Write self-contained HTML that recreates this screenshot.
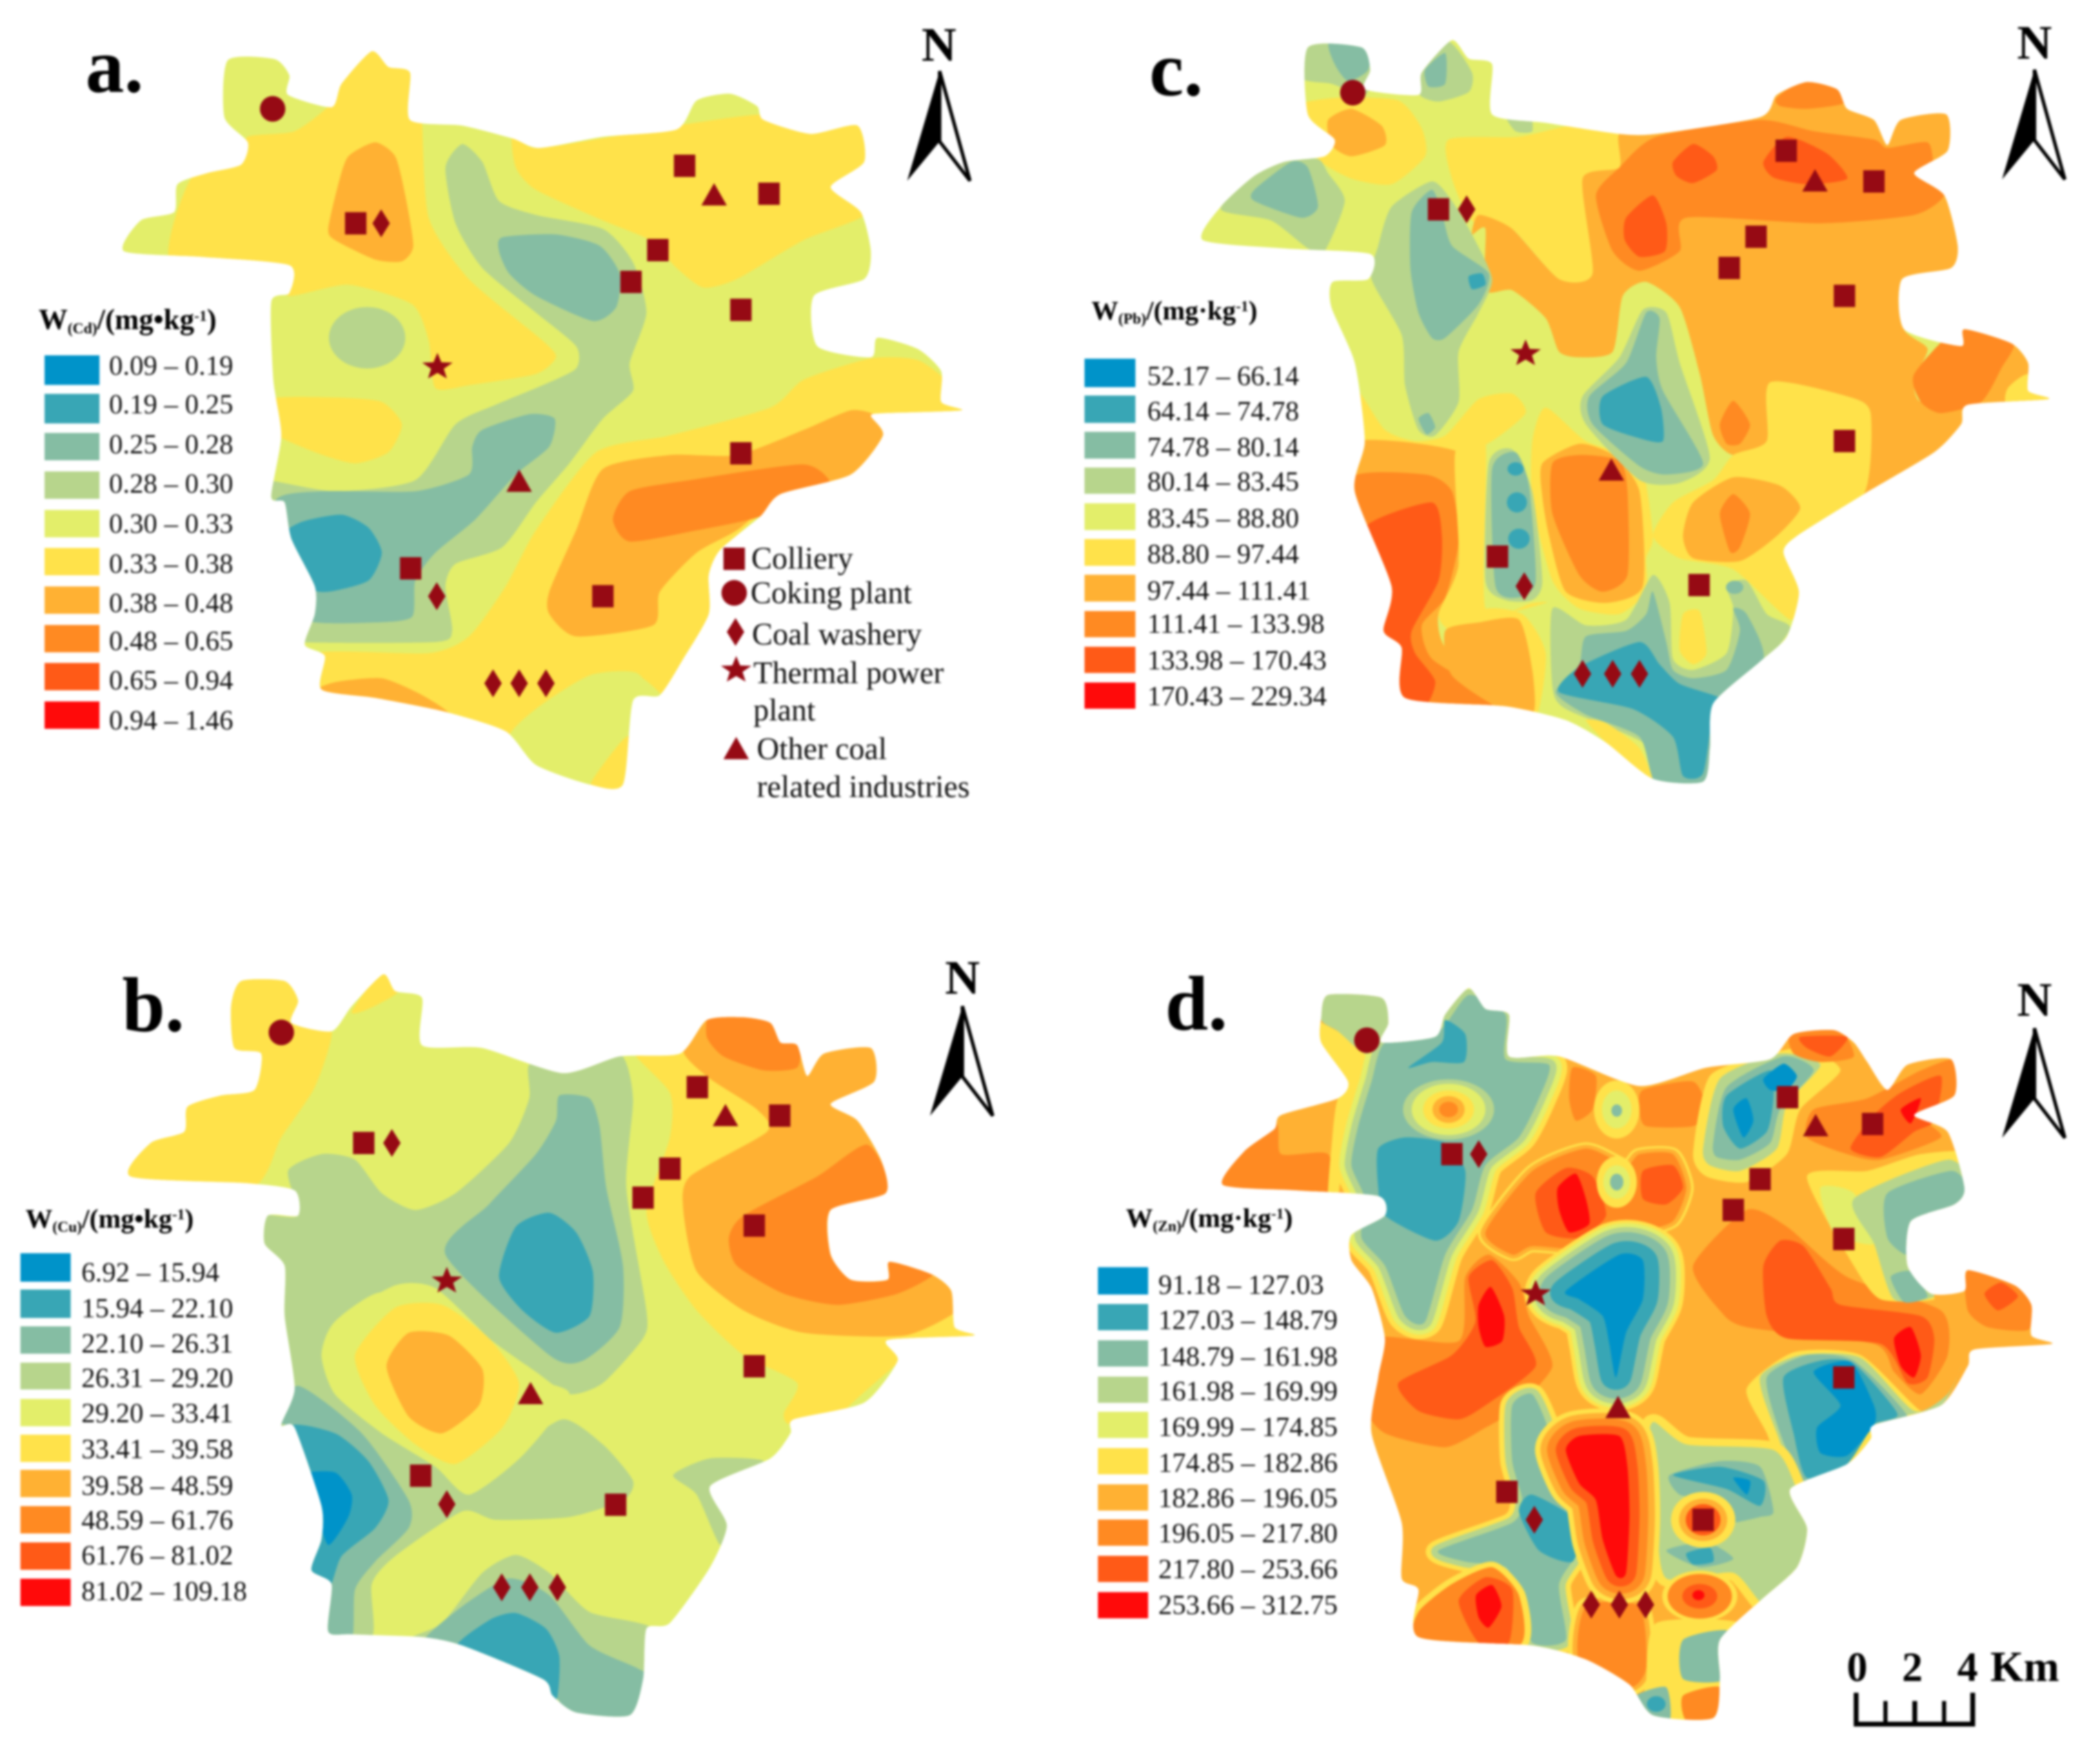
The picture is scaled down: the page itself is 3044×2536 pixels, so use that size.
<!DOCTYPE html>
<html lang="en">
<head>
<meta charset="utf-8">
<title>Soil heavy metal concentration maps</title>
<style>
html,body{margin:0;padding:0;background:#fff;width:3044px;height:2536px;overflow:hidden}
#fig{display:block;filter:blur(1.5px)}
text{font-family:"Liberation Serif",serif;fill:#000}
.lg{font-size:40px;fill:#111}
.ttl{font-size:39px;font-weight:bold}
.ttl .s{font-size:22px}
.pl{font-size:112px;font-weight:bold}
.nl{font-size:70px;font-weight:bold;text-anchor:middle}
.kl{font-size:45px;fill:#111}
.sc{font-size:60px;font-weight:bold}
path,ellipse{stroke-width:0;stroke-linejoin:round}
.c1{fill:#0093c9;stroke:#0093c9}
.c2{fill:#38a6b5;stroke:#38a6b5}
.c3{fill:#85bda3;stroke:#85bda3}
.c4{fill:#b7d58c;stroke:#b7d58c}
.c5{fill:#e3ee6a;stroke:#e3ee6a}
.c6{fill:#ffe24a;stroke:#ffe24a}
.c7{fill:#ffb133;stroke:#ffb133}
.c8{fill:#ff8a22;stroke:#ff8a22}
.c9{fill:#ff5a17;stroke:#ff5a17}
.c10{fill:#ff0a0a;stroke:#ff0a0a}
.mk{fill:#960a14}
</style>
</head>
<body>
<svg id="fig" xmlns="http://www.w3.org/2000/svg" width="3044" height="2536" viewBox="0 0 3044 2536">
<defs>
<rect id="m-sq" class="mk" x="-16" y="-20" width="32" height="40"/>
<ellipse id="m-ci" class="mk" cx="0" cy="0" rx="19" ry="23"/>
<polygon id="m-di" class="mk" points="0,-25 13,0 0,25 -13,0"/>
<polygon id="m-st" class="mk" points="0,-25 5.9,-8 22.8,-7.4 9.5,3.5 14.1,21 0,11 -14.1,21 -9.5,3.5 -22.8,-7.4 -5.9,-8"/>
<polygon id="m-tr" class="mk" points="0,-22 19,18 -19,18"/>
<g id="north-arrow">
<polygon points="0,0 -47,159 0,102" fill="#000"/>
<polygon points="0,0 44,159 0,102" fill="#fff" stroke="#000" stroke-width="5" stroke-linejoin="miter"/>
</g>
<clipPath id="clip-a"><path data-p="340,108 410,106 432,135 430,170 495,192 510,150 555,92 580,120 612,130 612,215 690,225 765,248 805,265 900,245 1010,232 1040,180 1090,168 1130,190 1140,215 1210,240 1280,225 1290,290 1240,335 1285,380 1300,450 1290,500 1215,530 1220,620 1300,640 1310,605 1370,625 1405,665 1405,720 1435,735 1320,740 1300,745 1318,780 1270,850 1165,885 1135,925 1075,985 1058,1030 1058,1100 1020,1180 985,1245 945,1255 930,1405 880,1405 800,1370 755,1310 665,1275 560,1250 480,1235 485,1175 455,1155 470,1100 470,1050 435,965 425,900 405,890 420,780 408,680 405,540 432,525 432,475 300,460 185,450 210,395 260,380 265,330 310,310 360,295 370,255 335,210"/></clipPath>
<clipPath id="clip-c"><path data-p="385,85 465,85 478,125 470,160 550,170 555,130 600,72 625,105 660,115 660,205 740,220 850,240 905,240 1060,210 1085,170 1130,147 1175,160 1190,195 1230,215 1250,260 1270,215 1338,205 1340,270 1290,310 1335,350 1355,440 1345,480 1272,500 1275,590 1360,620 1365,590 1435,615 1460,650 1460,700 1490,715 1370,725 1360,760 1320,810 1215,885 1115,960 1095,990 1118,1060 1100,1140 1060,1185 990,1260 985,1340 975,1400 900,1395 830,1330 770,1290 680,1265 530,1250 525,1160 498,1130 510,1050 455,880 470,790 455,650 420,550 422,505 475,500 478,455 350,445 228,430 255,370 305,315 350,290 410,280 425,250 385,205"/></clipPath>
<clipPath id="clip-b"><path data-p="360,190 425,190 445,225 435,265 495,280 525,235 572,178 590,208 630,220 630,305 720,310 840,355 925,325 1015,320 1055,260 1110,255 1150,265 1165,300 1190,305 1205,360 1230,320 1300,310 1305,370 1240,410 1280,440 1315,510 1322,570 1240,600 1240,680 1270,725 1325,725 1328,693 1390,715 1420,745 1425,810 1453,825 1325,833 1340,870 1290,945 1185,975 1180,1000 1150,1045 1060,1095 1085,1165 1060,1240 1000,1340 965,1350 960,1440 940,1505 860,1500 825,1470 810,1440 690,1380 630,1365 525,1360 490,1355 495,1270 465,1245 480,1190 480,1130 440,990 420,985 440,920 425,790 425,700 395,660 400,610 445,610 440,565 370,552 195,540 225,480 275,460 280,415 330,395 380,385 390,320 350,310 345,235"/></clipPath>
<clipPath id="clip-d"><path data-p="415,215 495,220 505,265 495,300 575,290 590,250 625,203 650,240 685,250 685,325 760,325 880,378 980,345 1075,330 1110,285 1170,278 1200,300 1220,335 1250,385 1280,340 1345,330 1350,395 1290,430 1340,460 1365,560 1350,590 1285,620 1280,700 1315,750 1365,745 1370,708 1440,735 1465,770 1465,825 1495,840 1380,850 1370,880 1330,950 1230,985 1225,1010 1190,1055 1105,1100 1130,1170 1115,1240 1060,1300 1000,1370 1000,1440 990,1510 900,1505 865,1450 800,1405 720,1380 550,1365 550,1280 525,1260 525,1160 480,1000 490,900 500,830 480,740 450,690 450,645 500,610 490,575 370,565 258,555 290,495 335,455 345,430 430,400 445,370 405,300 405,255"/></clipPath>
</defs>

<rect x="0" y="0" width="3044" height="2536" fill="#fff"/>

<!-- PANEL A -->
<g transform="translate(0,0) scale(.971,.809)">
<g clip-path="url(#clip-a)">
<rect class="c5" x="0" y="0" width="1568" height="1568"/>
<path class="c6" data-p="495,185 510,140 555,80 625,120 630,215 640,390 700,500 810,610 830,640 800,670 700,690 650,695 640,610 615,545 520,510 430,530 420,480 255,470 285,320 360,285 370,245 440,235"/>
<ellipse class="c4" cx="548" cy="605" rx="57" ry="55"/>
<path class="c7" data-p="520,280 560,255 590,280 605,350 617,440 600,468 560,465 500,430 490,410 505,330"/>
<path class="c6" data-p="400,715 500,712 570,720 600,760 580,810 530,830 470,810 400,770"/>
<path class="c6" data-p="765,240 805,265 1010,225 1140,205 1210,230 1300,215 1300,290 1250,335 1290,385 1200,430 1100,500 1050,515 1010,480 970,430 900,395 800,340 770,300"/>
<path class="c4" data-p="690,258 720,290 745,360 800,385 900,410 945,470 965,560 940,650 945,700 900,750 850,830 800,900 750,980 680,1010 665,1050 675,1130 650,1150 440,1150 440,1130 460,1110 460,1050 395,890 395,860 500,880 620,860 680,760 740,725 810,690 860,660 860,620 800,560 720,480 680,400 665,300"/>
<path class="c3" data-p="750,425 830,420 895,440 925,490 920,550 885,575 800,530 760,490 745,450"/>
<path class="c3" data-p="720,770 790,742 828,750 820,800 770,850 710,930 650,990 620,1040 615,1105 560,1115 460,1112 450,1050 410,900 480,880 620,880 700,850 705,800"/>
<path class="c2" data-p="450,935 510,922 550,945 570,990 550,1040 490,1060 460,1050 420,965"/>
<path class="c6" data-p="1200,680 1300,642 1370,645 1420,690 1440,745 1300,750 1330,780 1280,860 1165,895 1070,1000 1070,1100 1000,1260 950,1205 880,1210 800,1270 760,1325 665,1285 460,1245 470,1170 640,1170 700,1140 755,1050 800,950 890,810 1000,780 1150,730"/>
<path class="c5" data-p="760,1320 800,1270 880,1210 945,1205 990,1250 945,1265 930,1320 885,1415 790,1380"/>
<path class="c6" data-p="880,1410 930,1325 955,1320 935,1415"/>
<path class="c7" data-p="900,840 1000,815 1100,815 1200,770 1270,735 1310,745 1325,780 1280,855 1165,890 1100,950 1040,990 985,1060 975,1120 860,1140 820,1100 820,1060 860,950"/>
<path class="c8" data-p="940,880 1030,860 1200,832 1240,870 1165,885 1135,925 1040,950 940,970 915,930"/>
<path class="c7" data-p="470,1240 500,1222 570,1215 630,1245 670,1280 560,1255"/>
</g>
<rect class="c1" x="67" y="637" width="81" height="52"/>
<rect class="c2" x="67" y="706" width="81" height="52"/>
<rect class="c3" x="67" y="776" width="81" height="48"/>
<rect class="c4" x="67" y="845" width="81" height="48"/>
<rect class="c5" x="67" y="914" width="81" height="48"/>
<rect class="c6" x="67" y="982" width="81" height="48"/>
<rect class="c7" x="67" y="1051" width="81" height="48"/>
<rect class="c8" x="67" y="1120" width="81" height="48"/>
<rect class="c9" x="67" y="1188" width="81" height="48"/>
<rect class="c10" x="67" y="1257" width="81" height="48"/>
<g>
<use href="#m-sq" x="531" y="400"/>
<use href="#m-sq" x="1022" y="297"/>
<use href="#m-sq" x="1148" y="347"/>
<use href="#m-sq" x="982" y="448"/>
<use href="#m-sq" x="942" y="505"/>
<use href="#m-sq" x="1106" y="555"/>
<use href="#m-sq" x="1106" y="812"/>
<use href="#m-sq" x="613" y="1018"/>
<use href="#m-sq" x="900" y="1068"/>
<use href="#m-ci" x="407" y="195"/>
<use href="#m-di" x="569" y="400"/>
<use href="#m-di" x="652" y="1068"/>
<use href="#m-di" x="736" y="1224"/>
<use href="#m-di" x="775" y="1224"/>
<use href="#m-di" x="815" y="1224"/>
<use href="#m-st" x="653" y="657"/>
<use href="#m-tr" x="1066" y="350"/>
<use href="#m-tr" x="775" y="863"/>
</g>
<g>
<use href="#m-sq" x="1096" y="1001"/>
<use href="#m-ci" x="1096" y="1062"/>
<use href="#m-di" x="1098" y="1132"/>
<use href="#m-st" x="1099" y="1200"/>
<use href="#m-tr" x="1099" y="1342"/>
</g>
</g>
<g>
<text class="pl" x="124" y="133">a.</text>
<text class="nl" x="1361" y="88">N</text>
<use href="#north-arrow" x="1362" y="103"/>
<text class="ttl" x="56" y="477" style="font-size:42px">W<tspan class="s" dy="6">(Cd)</tspan><tspan dy="-6">/(mg•kg</tspan><tspan class="s" dy="-12">-1</tspan><tspan dy="12">)</tspan></text>
<text class="lg" x="158" y="543">0.09 – 0.19</text>
<text class="lg" x="158" y="599">0.19 – 0.25</text>
<text class="lg" x="158" y="657">0.25 – 0.28</text>
<text class="lg" x="158" y="714">0.28 – 0.30</text>
<text class="lg" x="158" y="772">0.30 – 0.33</text>
<text class="lg" x="158" y="830">0.33 – 0.38</text>
<text class="lg" x="158" y="887">0.38 – 0.48</text>
<text class="lg" x="158" y="942">0.48 – 0.65</text>
<text class="lg" x="158" y="999">0.65 – 0.94</text>
<text class="lg" x="158" y="1057">0.94 – 1.46</text>
<text class="kl" x="1089" y="824">Colliery</text>
<text class="kl" x="1088" y="874">Coking plant</text>
<text class="kl" x="1090" y="934">Coal washery</text>
<text class="kl" x="1092" y="990">Thermal power</text>
<text class="kl" x="1092" y="1044">plant</text>
<text class="kl" x="1097" y="1100">Other coal</text>
<text class="kl" x="1097" y="1155">related industries</text>
</g>

<!-- PANEL C -->
<g transform="translate(1522,0) scale(.971,.809)">
<g clip-path="url(#clip-c)">
<rect class="c5" x="0" y="0" width="1568" height="1568"/>
<path class="c6" data-p="375,185 430,175 520,180 555,230 560,280 510,330 450,320 400,285 415,250 375,205"/>
<path class="c7" data-p="415,215 450,195 495,225 500,260 450,280 420,260"/>
<path class="c4" data-p="370,75 475,75 485,125 470,170 420,150 375,140"/>
<path class="c3" data-p="417,75 475,75 475,125 445,145 425,115"/>
<path class="c4" data-p="555,130 595,75 630,130 625,165 580,182 552,170"/>
<path class="c3" data-p="560,125 590,95 590,150 565,155"/>
<path class="c4" data-p="680,205 715,195 720,235 695,235"/>
<path class="c4" data-p="305,310 345,285 400,285 415,310 440,360 410,450 385,445 330,395 255,375"/>
<path class="c3" data-p="305,340 360,290 385,300 400,370 375,390 305,360"/>
<path class="c6" data-p="595,250 700,245 780,225 850,240 850,300 800,320 810,490 760,500 690,410 630,395 600,320"/>
<path class="c7" data-p="850,240 905,235 1060,200 1085,160 1130,135 1175,150 1195,190 1235,210 1250,255 1270,205 1350,195 1350,270 1300,310 1345,350 1365,440 1355,490 1272,500 1275,590 1310,625 1290,680 1300,720 1380,725 1370,770 1325,815 1215,890 1225,740 1190,710 1075,685 1070,790 1020,815 990,780 970,670 940,550 890,505 855,530 840,630 790,640 760,630 740,570 690,520 650,520 650,410 630,420 640,385 690,410 760,500 810,490 795,320 850,300"/>
<path class="c8" data-p="905,245 1060,215 1140,235 1230,250 1250,265 1310,255 1320,300 1335,350 1290,385 1150,400 950,390 940,450 880,485 840,450 815,350 850,300"/>
<path class="c8" data-p="1085,175 1130,140 1180,155 1185,185 1130,195 1090,190"/>
<path class="c9" data-p="930,290 960,258 990,280 995,305 960,328 935,315"/>
<path class="c9" data-p="860,390 900,350 920,400 918,450 880,460 858,430"/>
<path class="c9" data-p="1065,290 1100,245 1160,275 1190,320 1130,330 1080,318"/>
<path class="c7" data-p="1340,725 1360,585 1440,610 1470,650 1470,700 1500,720 1370,730"/>
<path class="c8" data-p="1290,670 1360,585 1438,612 1420,660 1390,720 1330,740 1300,720"/>
<path class="c6" data-p="1430,695 1462,670 1500,720 1430,725"/>
<path class="c6" data-p="1075,685 1190,710 1225,740 1215,885 1115,960 1095,990 1125,1060 1105,1110 1020,1020 940,1000 900,960 930,900 990,860 1020,815 1070,790"/>
<path class="c7" data-p="945,960 960,900 1020,855 1090,870 1120,910 1085,960 1030,1005 960,1000"/>
<path class="c8" data-p="1000,920 1020,885 1045,920 1030,980 1015,988"/>
<path class="c8" data-p="1000,760 1020,718 1045,760 1030,795 1010,795"/>
<path class="c6" data-p="460,700 500,770 545,790 590,780 640,715 690,705 710,740 660,790 610,810 460,790 445,720"/>
<path class="c7" data-p="460,790 610,810 615,900 610,1000 610,1070 580,1100 590,1160 680,1275 520,1260 490,1130 500,1050 445,880"/>
<path class="c8" data-p="445,860 560,850 600,880 610,970 590,1070 555,1120 570,1180 650,1240 675,1275 520,1260 490,1130 500,1050"/>
<path class="c9" data-p="470,945 570,900 585,960 580,1040 540,1130 545,1170 575,1220 560,1265 520,1260 515,1160 488,1135 500,1050"/>
<path class="c6" data-p="720,790 740,730 800,790 880,830 900,960 890,1000 890,1060 850,1100 790,1090 750,1040 720,900"/>
<path class="c7" data-p="735,830 790,795 840,815 880,880 885,1050 830,1080 770,1060 745,960 735,890"/>
<path class="c8" data-p="750,830 790,815 850,825 862,880 862,1030 825,1060 790,1030 750,920"/>
<path class="c6" data-p="605,810 650,790 650,1090 720,1080 740,1080 650,1110 600,1130 580,1100 610,1010"/>
<path class="c6" data-p="640,1100 705,1100 740,1170 725,1285 670,1275"/>
<path class="c7" data-p="590,1130 640,1115 700,1110 720,1200 722,1275 680,1275 600,1210"/>
<path class="c4" data-p="510,370 570,325 600,360 630,420 660,500 640,560 610,630 610,720 575,780 550,770 530,690 525,600 480,500 490,440"/>
<path class="c3" data-p="540,380 570,340 585,380 600,440 655,490 640,545 590,605 570,605 550,560 538,480"/>
<path class="c2" data-p="625,495 645,490 650,510 630,518"/>
<path class="c3" data-p="550,750 565,740 575,765 562,778"/>
<path class="c4" data-p="655,830 690,805 720,880 735,1040 720,1075 680,1075 650,1040"/>
<path class="c3" data-p="660,840 695,810 715,870 725,1040 700,1070 665,1050"/>
<ellipse class="c2" cx="695" cy="840" rx="12" ry="12"/>
<ellipse class="c2" cx="697" cy="900" rx="15" ry="18"/>
<ellipse class="c2" cx="700" cy="965" rx="16" ry="18"/>
<path class="c4" data-p="885,555 920,560 940,650 985,820 940,865 880,860 800,760 795,710 850,640"/>
<path class="c3" data-p="890,560 910,570 905,640 915,700 975,830 920,850 880,835 810,760 805,710 860,650"/>
<path class="c2" data-p="825,710 890,675 912,730 915,790 880,785 825,760"/>
<path class="c4" data-p="750,1090 800,1120 860,1110 900,1030 925,1080 930,1180 960,1200 1010,1170 1020,1090 1010,1050 1040,1040 1070,1100 1105,1125 1060,1195 990,1260 985,1350 975,1410 930,1405 885,1330 770,1270 750,1230"/>
<path class="c6" data-p="800,1290 830,1295 880,1340 900,1400 870,1370 830,1330"/>
<path class="c6" data-p="945,1100 970,1095 980,1170 960,1190 940,1165"/>
<path class="c3" data-p="755,1240 790,1190 800,1140 860,1130 890,1100 900,1060 920,1150 930,1200 960,1215 1010,1200 1030,1130 1020,1090 1040,1100 1065,1180 995,1260 990,1350 975,1410 905,1405 880,1320 800,1280"/>
<path class="c2" data-p="760,1240 790,1195 880,1150 910,1190 940,1225 1000,1250 990,1270 975,1385 945,1390 930,1320 870,1270"/>
<ellipse class="c3" cx="1022" cy="1052" rx="13" ry="12"/>
</g>
<rect class="c1" x="52" y="643" width="75" height="50"/>
<rect class="c2" x="52" y="709" width="75" height="48"/>
<rect class="c3" x="52" y="774" width="75" height="47"/>
<rect class="c4" x="52" y="838" width="75" height="46"/>
<rect class="c5" x="52" y="902" width="75" height="47"/>
<rect class="c6" x="52" y="966" width="75" height="47"/>
<rect class="c7" x="52" y="1030" width="75" height="47"/>
<rect class="c8" x="52" y="1095" width="75" height="46"/>
<rect class="c9" x="52" y="1159" width="75" height="46"/>
<rect class="c10" x="52" y="1223" width="75" height="46"/>
<g>
<use href="#m-sq" x="580" y="375"/>
<use href="#m-sq" x="1099" y="270"/>
<use href="#m-sq" x="1230" y="325"/>
<use href="#m-sq" x="1054" y="424"/>
<use href="#m-sq" x="1014" y="480"/>
<use href="#m-sq" x="1186" y="530"/>
<use href="#m-sq" x="1186" y="790"/>
<use href="#m-sq" x="668" y="997"/>
<use href="#m-sq" x="969" y="1048"/>
<use href="#m-ci" x="452" y="166"/>
<use href="#m-di" x="622" y="375"/>
<use href="#m-di" x="708" y="1050"/>
<use href="#m-di" x="795" y="1207"/>
<use href="#m-di" x="840" y="1207"/>
<use href="#m-di" x="880" y="1207"/>
<use href="#m-st" x="710" y="633"/>
<use href="#m-tr" x="1142" y="325"/>
<use href="#m-tr" x="838" y="843"/>
</g>
</g>
<g>
<text class="pl" x="1666" y="138">c.</text>
<text class="nl" x="2949" y="85">N</text>
<use href="#north-arrow" x="2949" y="101"/>
<text class="ttl" x="1582" y="463">W<tspan class="s" dy="6">(Pb)</tspan><tspan dy="-6">/(mg·kg</tspan><tspan class="s" dy="-12">-1</tspan><tspan dy="12">)</tspan></text>
<text class="lg" x="1663" y="558">52.17 – 66.14</text>
<text class="lg" x="1663" y="609">64.14 – 74.78</text>
<text class="lg" x="1663" y="661">74.78 – 80.14</text>
<text class="lg" x="1663" y="711">80.14 – 83.45</text>
<text class="lg" x="1663" y="764">83.45 – 88.80</text>
<text class="lg" x="1663" y="816">88.80 – 97.44</text>
<text class="lg" x="1663" y="869">97.44 – 111.41</text>
<text class="lg" x="1663" y="917">111.41 – 133.98</text>
<text class="lg" x="1663" y="970">133.98 – 170.43</text>
<text class="lg" x="1663" y="1022">170.43 – 229.34</text>
</g>

<!-- PANEL B -->
<g transform="translate(0,1268) scale(.971,.809)">
<g clip-path="url(#clip-b)">
<rect class="c5" x="0" y="0" width="1568" height="1568"/>
<path class="c6" data-p="350,180 430,180 455,225 445,265 495,280 470,380 420,470 375,560 185,550 215,480 265,450 270,405 370,375 380,320 340,310 335,235"/>
<path class="c6" data-p="525,245 572,170 595,208 550,240"/>
<path class="c4" data-p="790,340 840,345 925,320 945,400 935,560 965,780 960,830 900,910 850,930 800,890 730,830 670,760 640,740 560,750 500,800 480,860 500,930 570,1000 650,1060 700,1110 760,1040 840,975 900,1020 945,1085 930,1120 850,1150 740,1155 690,1140 590,1220 555,1270 555,1365 480,1365 410,985 430,920 390,660 390,610 445,610 430,530 480,500 530,510 570,570 620,600 680,570 760,480 790,400"/>
<path class="c4" data-p="610,1370 660,1340 720,1250 770,1218 820,1250 880,1320 975,1350 970,1440 950,1515 860,1510 810,1450 690,1390"/>
<path class="c4" data-p="1005,1075 1060,1045 1140,1050 1070,1095 1095,1165 1075,1200 1040,1110"/>
<path class="c5" data-p="480,860 500,800 590,735 650,740 730,830 790,900 850,930 780,1040 700,1110 650,1060 570,1000 500,930"/>
<path class="c6" data-p="530,860 590,775 660,770 730,830 775,910 750,990 680,1055 620,1020 560,950"/>
<path class="c7" data-p="577,880 610,820 670,825 720,885 715,950 660,1000 610,970"/>
<path class="c3" data-p="835,395 880,400 895,450 905,560 930,700 925,810 870,870 820,860 665,680 730,590 800,500 830,440"/>
<path class="c2" data-p="770,630 820,605 860,640 885,710 880,790 830,820 780,780 745,720"/>
<path class="c3" data-p="410,985 445,915 540,1000 610,1120 610,1170 560,1230 530,1280 525,1370 480,1365 485,1270 455,1245 470,1190 470,1130 430,990"/>
<path class="c2" data-p="430,990 500,1000 550,1050 580,1120 560,1170 510,1220 490,1280 455,1245 470,1190 470,1130"/>
<path class="c1" data-p="448,1075 500,1070 525,1110 520,1150 490,1200 470,1130"/>
<path class="c3" data-p="630,1375 690,1310 760,1260 820,1290 880,1380 950,1420 970,1440 950,1515 860,1510 810,1450 690,1390"/>
<path class="c2" data-p="680,1390 730,1335 770,1322 815,1350 835,1400 830,1480 800,1445"/>
<path class="c6" data-p="945,315 1020,310 1240,400 1330,520 1430,745 1435,810 1465,830 1325,838 1350,870 1295,955 1185,985 1170,965 1190,910 1110,860 1040,780 990,690 965,600 1000,470 1000,390"/>
<path class="c5" data-p="1265,955 1330,885 1350,865 1295,955"/>
<path class="c7" data-p="1020,315 1055,250 1110,245 1150,255 1175,295 1195,300 1205,355 1230,310 1310,300 1315,370 1250,410 1290,440 1330,570 1240,600 1240,680 1270,725 1325,725 1328,685 1395,710 1430,745 1430,780 1350,825 1200,820 1110,780 1040,710 1020,600 1030,540 1145,460 1130,420 1060,365"/>
<path class="c8" data-p="1055,290 1060,245 1110,245 1155,260 1175,295 1195,300 1190,345 1140,350 1080,325"/>
<path class="c8" data-p="1295,483 1330,570 1240,600 1240,680 1270,725 1325,725 1328,685 1395,712 1340,750 1250,770 1170,750 1100,700 1088,650 1110,610 1220,540"/>
</g>
<rect class="c1" x="31" y="678" width="74" height="50"/>
<rect class="c2" x="31" y="743" width="74" height="50"/>
<rect class="c3" x="31" y="809" width="74" height="48"/>
<rect class="c4" x="31" y="874" width="74" height="47"/>
<rect class="c5" x="31" y="939" width="74" height="48"/>
<rect class="c6" x="31" y="1003" width="74" height="48"/>
<rect class="c7" x="31" y="1066" width="74" height="48"/>
<rect class="c8" x="31" y="1131" width="74" height="48"/>
<rect class="c9" x="31" y="1196" width="74" height="48"/>
<rect class="c10" x="31" y="1261" width="74" height="48"/>
<g>
<use href="#m-sq" x="543" y="480"/>
<use href="#m-sq" x="1041" y="380"/>
<use href="#m-sq" x="1164" y="431"/>
<use href="#m-sq" x="1000" y="526"/>
<use href="#m-sq" x="960" y="578"/>
<use href="#m-sq" x="1126" y="628"/>
<use href="#m-sq" x="1126" y="880"/>
<use href="#m-sq" x="628" y="1076"/>
<use href="#m-sq" x="919" y="1128"/>
<use href="#m-ci" x="420" y="282"/>
<use href="#m-di" x="585" y="480"/>
<use href="#m-di" x="667" y="1127"/>
<use href="#m-di" x="749" y="1276"/>
<use href="#m-di" x="791" y="1276"/>
<use href="#m-di" x="832" y="1276"/>
<use href="#m-st" x="667" y="727"/>
<use href="#m-tr" x="1083" y="432"/>
<use href="#m-tr" x="792" y="930"/>
</g>
</g>
<g>
<text class="pl" x="177" y="1494">b.</text>
<text class="nl" x="1395" y="1440">N</text>
<use href="#north-arrow" x="1395" y="1458"/>
<text class="ttl" x="37" y="1779">W<tspan class="s" dy="6">(Cu)</tspan><tspan dy="-6">/(mg•kg</tspan><tspan class="s" dy="-12">-1</tspan><tspan dy="12">)</tspan></text>
<text class="lg" x="118" y="1857">6.92 – 15.94</text>
<text class="lg" x="118" y="1909">15.94 – 22.10</text>
<text class="lg" x="118" y="1960">22.10 – 26.31</text>
<text class="lg" x="118" y="2010">26.31 – 29.20</text>
<text class="lg" x="118" y="2061">29.20 – 33.41</text>
<text class="lg" x="118" y="2113">33.41 – 39.58</text>
<text class="lg" x="118" y="2166">39.58 – 48.59</text>
<text class="lg" x="118" y="2216">48.59 – 61.76</text>
<text class="lg" x="118" y="2267">61.76 – 81.02</text>
<text class="lg" x="118" y="2319">81.02 – 109.18</text>
</g>

<!-- PANEL D -->
<g transform="translate(1522,1268) scale(.971,.809)">
<g clip-path="url(#clip-d)">
<rect class="c7" x="0" y="0" width="1568" height="1568"/>
<path class="c8" data-p="240,565 335,445 345,500 415,500 415,580"/>
<path class="c6" data-p="430,400 470,340 480,420 440,480 430,580 415,580 420,490"/>
<path class="c6" data-p="395,260 470,310 510,370 470,420 430,400 445,370 395,300"/>
<path class="c3" data-r="c4:20 c5:36 c6:52" data-p="500,300 580,280 625,215 680,250 680,330 745,340 730,400 700,470 650,520 630,600 590,680 560,800 530,790 500,700 465,650 470,580 450,520 460,450 480,370"/>
<path class="c4" data-p="405,205 505,210 510,265 495,300 470,320 430,280 405,260"/>
<path class="c2" data-p="535,345 585,300 590,260 620,285 618,335 570,335"/>
<path class="c2" data-p="490,490 530,470 590,480 620,530 610,620 575,655 500,610 490,560"/>
<ellipse class="c4" cx="595" cy="420" rx="68" ry="54"/>
<ellipse class="c5" cx="595" cy="420" rx="55" ry="46"/>
<ellipse class="c6" cx="595" cy="420" rx="38" ry="34"/>
<ellipse class="c7" cx="595" cy="420" rx="24" ry="24"/>
<ellipse class="c8" cx="595" cy="420" rx="14" ry="14"/>
<path class="c8" data-p="780,345 815,360 810,420 785,440 775,400"/>
<path class="c8" data-p="885,385 960,370 980,420 960,450 890,450 880,420"/>
<ellipse class="c6" cx="846" cy="420" rx="34" ry="52"/>
<ellipse class="c5" cx="846" cy="420" rx="22" ry="34"/>
<ellipse class="c3" cx="846" cy="422" rx="8" ry="11"/>
<path class="c8" data-r="c7:14 c6:22" data-p="650,640 720,530 800,490 860,520 880,500 930,500 950,560 930,620 880,640 800,670 720,665 690,680"/>
<path class="c9" data-p="725,570 770,525 810,540 830,610 790,650 740,640"/>
<path class="c10" data-p="758,560 785,535 800,580 805,625 775,640 760,600"/>
<ellipse class="c6" cx="846" cy="550" rx="30" ry="46"/>
<ellipse class="c5" cx="846" cy="550" rx="20" ry="30"/>
<ellipse class="c3" cx="846" cy="550" rx="10" ry="15"/>
<path class="c9" data-p="885,530 930,520 945,560 920,590 885,580"/>
<path class="c8" data-p="480,830 610,835 620,720 655,680 700,730 715,790 750,880 690,960 650,990 590,1025 500,1000 470,950"/>
<path class="c9" data-p="625,720 660,690 690,740 700,810 725,880 650,950 610,975 550,960 520,910 600,860 635,800"/>
<path class="c10" data-p="640,770 658,738 678,790 675,835 650,845 640,810"/>
<path class="c8" data-p="960,700 1040,600 1100,630 1190,720 1330,780 1340,860 1300,930 1260,890 1230,840 1040,810 1000,780"/>
<path class="c9" data-p="1065,700 1090,655 1125,665 1165,740 1180,770 1300,790 1320,830 1310,900 1280,910 1240,840 1100,830 1070,790"/>
<path class="c10" data-p="1260,830 1285,810 1300,860 1290,900 1270,880"/>
<path class="c8" data-p="1370,708 1440,735 1465,770 1460,815 1400,810 1370,780"/>
<path class="c9" data-p="1395,750 1420,730 1445,755 1415,780"/>
<path class="c1" data-r="c2:44 c3:76 c4:94 c5:108 c6:120" data-p="770,745 850,680 885,690 885,760 860,820 845,900 835,840 825,790 790,760"/>
<path class="c6" data-p="1040,920 1110,855 1210,860 1300,960 1340,950 1380,880 1300,990 1220,1020 1190,1070 1110,1110 1070,1000"/>
<path class="c4" data-p="1060,900 1120,860 1210,865 1290,960 1340,930 1360,880 1330,950 1230,985 1190,1055 1120,1090 1085,1000"/>
<path class="c3" data-p="1070,900 1130,860 1200,870 1280,970 1230,985 1190,1055 1125,1085 1090,1000"/>
<path class="c2" data-p="1095,900 1150,870 1200,875 1265,965 1230,985 1190,1055 1130,1080 1110,1000"/>
<path class="c1" data-p="1140,890 1195,872 1230,950 1230,985 1190,1040 1150,1035 1145,990 1180,950"/>
<path class="c6" data-p="1130,540 1220,530 1300,500 1380,500 1370,600 1285,630 1290,720 1320,760 1240,760 1200,700"/>
<path class="c5" data-p="1150,560 1200,570 1230,660 1170,640"/>
<path class="c4" data-p="1200,580 1340,510 1380,560 1350,600 1285,630 1290,720 1320,755 1260,760 1230,660"/>
<path class="c3" data-p="1250,570 1345,530 1370,560 1350,590 1285,620 1280,680 1250,650"/>
<path class="c3" data-p="1255,720 1285,710 1310,755 1275,765"/>
<path class="c6" data-p="960,500 985,360 1075,320 1130,310 1180,350 1120,420 1100,500 1040,550 980,540"/>
<path class="c4" data-p="975,490 1000,365 1090,320 1150,340 1100,410 1085,490 1030,530 985,520"/>
<path class="c3" data-p="990,480 1010,380 1095,325 1140,350 1090,420 1075,480 1030,510 995,505"/>
<path class="c2" data-p="1010,395 1075,350 1080,400 1070,460 1030,490 1005,450"/>
<path class="c1" data-p="1065,365 1095,338 1115,360 1100,385 1075,385"/>
<path class="c1" data-p="1020,420 1040,400 1050,440 1035,470"/>
<path class="c8" data-p="1105,280 1175,270 1200,325 1150,335 1110,320"/>
<path class="c9" data-p="1120,290 1190,290 1165,325 1130,310"/>
<path class="c8" data-p="1140,420 1220,400 1300,350 1355,330 1360,395 1300,430 1330,470 1240,510 1190,500 1130,470"/>
<path class="c9" data-p="1195,490 1230,430 1270,390 1330,360 1320,440 1290,460 1240,505"/>
<path class="c10" data-p="1270,420 1300,400 1285,445"/>
<path class="c3" data-r="c4:20 c6:36" data-p="690,950 720,930 745,1000 740,1080 790,1130 795,1200 760,1270 770,1370 720,1375 700,1290 680,1240 620,1230 580,1210 690,1160 705,1120 690,1050"/>
<path class="c2" data-p="700,1140 720,1110 790,1160 780,1230 730,1210"/>
<path class="c8" data-r="c6:20" data-p="550,1320 600,1270 660,1240 700,1290 700,1380 550,1370"/>
<path class="c9" data-p="610,1300 650,1258 690,1280 685,1375 640,1375"/>
<path class="c10" data-p="636,1290 660,1272 674,1310 655,1348 640,1330"/>
<path class="c8" data-r="c7:14 c6:28" data-p="800,1310 880,1310 890,1420 865,1455 790,1410"/>
<path class="c4" data-r="c6:28" data-p="900,980 950,1020 1080,1030 1115,1100 1140,1170 1125,1240 1070,1310 1020,1250 920,1260 905,1150 890,1050"/>
<path class="c3" data-p="925,1075 1000,1050 1060,1060 1080,1140 1060,1150 1010,1160 990,1120 940,1110"/>
<path class="c2" data-p="930,1075 1000,1060 1065,1085 1060,1130 1010,1100"/>
<path class="c1" data-p="1020,1080 1045,1085 1040,1110"/>
<path class="c3" data-p="920,1210 980,1195 1020,1225 970,1240"/>
<path class="c2" data-p="950,1215 985,1205 990,1230 960,1235"/>
<ellipse class="c6" cx="975" cy="1155" rx="48" ry="50"/>
<ellipse class="c7" cx="975" cy="1155" rx="36" ry="38"/>
<ellipse class="c9" cx="975" cy="1155" rx="26" ry="28"/>
<ellipse class="c6" cx="970" cy="1292" rx="56" ry="46"/>
<ellipse class="c8" cx="970" cy="1292" rx="48" ry="40"/>
<ellipse class="c9" cx="970" cy="1292" rx="26" ry="22"/>
<ellipse class="c10" cx="968" cy="1290" rx="9" ry="9"/>
<path class="c6" data-p="905,1340 1030,1340 1010,1420 1010,1520 890,1520 890,1440"/>
<path class="c3" data-p="945,1370 1015,1355 1010,1440 945,1440"/>
<path class="c8" data-p="945,1470 1000,1455 1000,1520 950,1515"/>
<path class="c3" data-p="875,1470 920,1455 925,1515 885,1505"/>
<ellipse class="c2" cx="905" cy="1485" rx="14" ry="14"/>
<path class="c10" data-r="c9:30 c8:56 c7:76 c6:92" data-p="770,1030 790,1005 850,1005 862,1060 865,1150 860,1250 845,1255 825,1190 815,1120 790,1090"/>
</g>
<rect class="c1" x="72" y="703" width="74" height="48"/>
<rect class="c2" x="72" y="769" width="74" height="46"/>
<rect class="c3" x="72" y="834" width="74" height="46"/>
<rect class="c4" x="72" y="899" width="74" height="46"/>
<rect class="c5" x="72" y="962" width="74" height="46"/>
<rect class="c6" x="72" y="1027" width="74" height="46"/>
<rect class="c7" x="72" y="1092" width="74" height="46"/>
<rect class="c8" x="72" y="1155" width="74" height="46"/>
<rect class="c9" x="72" y="1220" width="74" height="46"/>
<rect class="c10" x="72" y="1285" width="74" height="46"/>
<g>
<use href="#m-sq" x="600" y="500"/>
<use href="#m-sq" x="1101" y="398"/>
<use href="#m-sq" x="1228" y="446"/>
<use href="#m-sq" x="1060" y="545"/>
<use href="#m-sq" x="1020" y="600"/>
<use href="#m-sq" x="1185" y="652"/>
<use href="#m-sq" x="1185" y="900"/>
<use href="#m-sq" x="682" y="1105"/>
<use href="#m-sq" x="975" y="1155"/>
<use href="#m-ci" x="473" y="296"/>
<use href="#m-di" x="640" y="500"/>
<use href="#m-di" x="723" y="1155"/>
<use href="#m-di" x="808" y="1307"/>
<use href="#m-di" x="850" y="1307"/>
<use href="#m-di" x="889" y="1307"/>
<use href="#m-st" x="725" y="750"/>
<use href="#m-tr" x="1143" y="450"/>
<use href="#m-tr" x="848" y="955"/>
</g>
</g>
<g>
<text class="pl" x="1689" y="1492">d.</text>
<text class="nl" x="2949" y="1472">N</text>
<use href="#north-arrow" x="2949" y="1490"/>
<text class="ttl" x="1632" y="1778">W<tspan class="s" dy="6">(Zn)</tspan><tspan dy="-6">/(mg·kg</tspan><tspan class="s" dy="-12">-1</tspan><tspan dy="12">)</tspan></text>
<text class="lg" x="1679" y="1875">91.18 – 127.03</text>
<text class="lg" x="1679" y="1926">127.03 – 148.79</text>
<text class="lg" x="1679" y="1979">148.79 – 161.98</text>
<text class="lg" x="1679" y="2029">161.98 – 169.99</text>
<text class="lg" x="1679" y="2081">169.99 – 174.85</text>
<text class="lg" x="1679" y="2133">174.85 – 182.86</text>
<text class="lg" x="1679" y="2184">182.86 – 196.05</text>
<text class="lg" x="1679" y="2235">196.05 – 217.80</text>
<text class="lg" x="1679" y="2287">217.80 – 253.66</text>
<text class="lg" x="1679" y="2339">253.66 – 312.75</text>
<g>
<text class="sc" x="2692" y="2436" text-anchor="middle">0</text>
<text class="sc" x="2772" y="2436" text-anchor="middle">2</text>
<text class="sc" x="2852" y="2436" text-anchor="middle">4</text>
<text class="sc" x="2885" y="2436" style="font-size:62px">Km</text>
<rect x="2687" y="2495" width="176" height="7" fill="#000"/>
<rect x="2687" y="2453" width="7" height="49" fill="#000"/>
<rect x="2730" y="2465" width="6" height="37" fill="#000"/>
<rect x="2772" y="2465" width="7" height="37" fill="#000"/>
<rect x="2815" y="2465" width="6" height="37" fill="#000"/>
<rect x="2856" y="2453" width="7" height="49" fill="#000"/>
</g>
</g>
</svg>
<script>
function smooth(str){
  var p=str.trim().split(/\s+/).map(function(s){return s.split(',').map(Number);});
  var n=p.length,d='M'+p[0][0]+' '+p[0][1];
  for(var i=0;i<n;i++){
    var a=p[(i-1+n)%n],b=p[i],c=p[(i+1)%n],e=p[(i+2)%n];
    var x1=b[0]+(c[0]-a[0])/9,y1=b[1]+(c[1]-a[1])/9,x2=c[0]-(e[0]-b[0])/9,y2=c[1]-(e[1]-b[1])/9;
    d+='C'+x1.toFixed(1)+' '+y1.toFixed(1)+' '+x2.toFixed(1)+' '+y2.toFixed(1)+' '+c[0]+' '+c[1];
  }
  return d+'Z';
}
document.querySelectorAll('path[data-p]').forEach(function(el){
  var d=smooth(el.getAttribute('data-p'));
  el.setAttribute('d',d);
  var r=el.getAttribute('data-r');
  if(!r)return;
  r.split(' ').reverse().forEach(function(item){
    var parts=item.split(':');
    var ring=document.createElementNS('http://www.w3.org/2000/svg','path');
    
    
    ring.setAttribute('class',parts[0]);
    ring.setAttribute('d',d);
    ring.style.strokeWidth=parts[1]+'px';
    el.parentNode.insertBefore(ring,el);
  });
});
</script>
</body>
</html>
